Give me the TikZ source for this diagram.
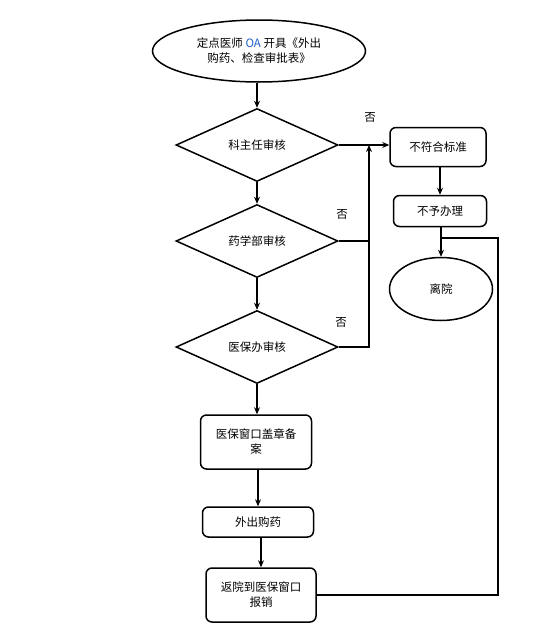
\documentclass[tikz,border=0pt]{standalone}
\usepackage{fontspec}
\setmainfont{Noto Sans CJK SC}
\usepackage{xcolor}
\usetikzlibrary{shapes.geometric,arrows.meta}
\definecolor{oablue}{HTML}{1F5FC8}
\tikzset{
  txt/.style={font={\fontsize{11.5}{15}\selectfont}, align=center},
  oval/.style={txt, draw, line width=1.5pt, ellipse, inner sep=0pt},
  check/.style={txt, draw, line width=1.5pt, diamond, inner sep=0pt, aspect=2.2,
    minimum width=162pt, minimum height=73pt},
  stepbox/.style={txt, draw, line width=1.5pt, rounded corners=6pt, inner sep=0pt},
  link/.style={line width=1.5pt},
  flow/.style={link, -{Stealth[length=7pt, width=6pt]}},
  nolabel/.style={font={\fontsize{11.5}{14}\selectfont}}
}
\begin{document}
\begin{tikzpicture}[x=1pt, y=-1pt]
\useasboundingbox (0,0) rectangle (543,635);
% left column
\node[oval, minimum width=213pt, minimum height=62pt] (start) at (259,51)
  {定点医师 \textcolor{oablue}{OA} 开具《外出\\购药、检查审批表》};
\node[check] (dept) at (257,145) {科主任审核};
\node[check] (pharm) at (257,241) {药学部审核};
\node[check] (office) at (257,347) {医保办审核};
\node[stepbox, minimum width=111pt, minimum height=54pt] (stamp) at (256,442) {医保窗口盖章备\\案};
\node[stepbox, minimum width=111pt, minimum height=30pt] (buy) at (258,522) {外出购药};
\node[stepbox, minimum width=110pt, minimum height=54pt] (ret) at (261,595) {返院到医保窗口\\报销};
% right column
\node[stepbox, minimum width=96pt, minimum height=39pt] (nok) at (438,147) {不符合标准};
\node[stepbox, minimum width=93pt, minimum height=31pt] (nop) at (440,211) {不予办理};
\node[oval, minimum width=103pt, minimum height=63pt] (leave) at (441,289) {离院};
% "no" labels
\node[nolabel] (no1) at (370,117) {否};
\node[nolabel] (no2) at (342,214) {否};
\node[nolabel] (no3) at (341,322) {否};
\coordinate (jn) at (369,145);
\coordinate (rx) at (498,238);
% connectors
\draw[flow] (start.south -| dept.north) -- (dept.north);
\draw[flow] (dept) -- (pharm);
\draw[flow] (pharm) -- (office);
\draw[flow] (office) -- (stamp.north -| office.south);
\draw[flow] (stamp.south -| buy.north) -- (buy.north);
\draw[flow] (buy.south -| ret.north) -- (ret.north);
\draw[flow] (dept.east) -- (dept.east -| nok.west);
\draw[link] (pharm.east) -- (pharm.east -| jn);
\draw[flow] (office.east) -- (office.east -| jn) -- (jn);
\draw[flow] (nok.south -| nop.north) -- (nop.north);
\draw[flow] (nop.south -| leave.north) -- (leave.north);
\draw[link] (ret.east) -- (ret.east -| rx) -- (rx) -- (rx -| leave.north);
\end{tikzpicture}
\end{document}
